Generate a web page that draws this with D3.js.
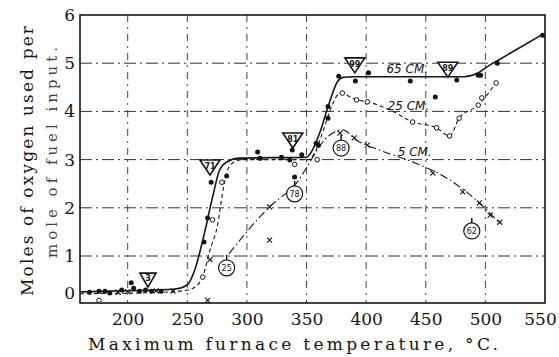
<!DOCTYPE html>
<html>
<head>
<meta charset="utf-8">
<script src="https://cdn.jsdelivr.net/npm/d3@7"></script>
</head>
<body style="margin:0">
<div id="chart"></div>
<script>
// tick values
const xTicks = [200, 250, 300, 350, 400, 450, 500, 550];
const yTicks = [0, 1, 2, 3, 4, 5, 6];
const xGrid = [200, 250, 300, 350, 400, 450, 500];
const yGrid = [1, 2, 3, 4, 5];

// drawn curves [temperature, moles]
const curve65 = [[160,0.03],[200,0.06],[240,0.11],[250,0.22],[256,0.6],[263,1.33],[271,2.2],[277,2.78],[283,2.95],[294,3.03],[350,3.05],[355,3.2],[361,3.55],[369,4.17],[376,4.62],[381,4.71],[390,4.72],[482,4.72],[494,4.8],[503,4.95],[510,5.05],[548,5.6]];
const curve25 = [[160,-0.02],[230,0.02],[250,0.08],[258,0.2],[263,0.45],[269,1.12],[275,1.6],[280,2.37],[283,2.72],[288,2.93],[297,3.0],[352,3.0],[357,3.15],[364,3.6],[371,4.1],[378,4.38],[392,4.24],[401,4.2],[420,4.03],[439,3.78],[459,3.66],[470,3.49],[478,3.86],[494,4.13],[509,4.6]];
const curve5 = [[285,1.05],[319,2.02],[340,2.47],[369,3.5],[380,3.62],[392,3.4],[411,3.2],[439,2.95],[470,2.58],[495,2.1],[512,1.68]];

// measured points
const dots65 = [[168,0.02],[176,0.05],[181,0.05],[185,0.0],[195,0.08],[203,0.28],[205,0.13],[210,0.05],[215,0.08],[220,0.05],[228,0.05],[264,1.29],[267,1.79],[270,2.53],[283,2.66],[309,3.16],[311,3.03],[329,3.05],[336,2.99],[340,2.64],[338,3.2],[346,3.1],[358,3.34],[360,3.3],[368,3.86],[368,4.1],[377,4.73],[391,4.63],[402,4.8],[437,4.63],[458,4.3],[476,4.65],[494,4.75],[496,4.75],[510,5.0],[548,5.58]];
const circles25 = [[176,-0.2],[263,0.43],[271,1.75],[279,2.53],[340,2.9],[359,3.0],[380,4.38],[392,4.24],[401,4.2],[439,3.78],[459,3.66],[470,3.49],[478,3.86],[494,4.13],[497,4.28],[509,4.59]];
const crosses5 = [[192,0.02],[200,0.04],[224,0.06],[238,0.05],[267,-0.2],[269,0.9],[319,2.02],[319,1.33],[378,3.55],[390,3.45],[401,3.3],[456,2.72],[481,2.33],[495,2.1],[504,1.85],[512,1.7]];

// annotations
const triangles = [[217,0.16,"3"],[269,2.68,"71"],[338.5,3.24,"81"],[390.5,4.8,"99"],[468.5,4.71,"89"]];
const rings = [[283,0.68,"25"],[340,2.29,"78"],[379,3.24,"88"],[488.6,1.52,"62"]];
const seriesLabels = [[417,4.88,"65 CM."],[418,4.11,"25 CM."],[426.5,3.16,"5 CM."]];

const W = 559, H = 357;
const svg = d3.select("#chart").append("svg")
    .attr("width", W)
    .attr("height", H)
    .style("display", "block");

const x = d3.scaleLinear().domain([160, 550]).range([80, 545]);
// scan squeezes the lowest unit a bit
const y = d3.scaleLinear().domain([-0.27, 0, 1, 6]).range([303, 293, 256, 15]);

const ink = "#151515";
const SERIF = '"DejaVu Serif"';

// grid
svg.append("g").selectAll("line")
    .data(yGrid)
    .enter().append("line")
    .attr("x1", x(160)).attr("x2", x(550))
    .attr("y1", d => y(d)).attr("y2", d => y(d))
    .attr("stroke", "#333")
    .attr("stroke-width", 1)
    .attr("stroke-dasharray", "12,4,2,4");
svg.append("g").selectAll("line")
    .data(xGrid)
    .enter().append("line")
    .attr("x1", d => x(d)).attr("x2", d => x(d))
    .attr("y1", y(6)).attr("y2", y(-0.27))
    .attr("stroke", "#444")
    .attr("stroke-width", 1)
    .attr("stroke-dasharray", "7,5,2,5");

// frame
svg.append("rect")
    .attr("x", x(160)).attr("y", y(6))
    .attr("width", x(550) - x(160))
    .attr("height", y(-0.27) - y(6))
    .attr("fill", "none")
    .attr("stroke", ink)
    .attr("stroke-width", 1.6);

// axes labels
const xAxis = svg.append("g")
    .attr("transform", `translate(0,${y(-0.27)})`)
    .call(d3.axisBottom(x).tickValues(xTicks).tickSize(0).tickPadding(10).tickFormat(d3.format("d")));
xAxis.select(".domain").remove();
xAxis.selectAll("text")
    .style("font-family", SERIF)
    .attr("font-size", 17)
    .attr("fill", ink)
    .attr("dx", d => d === 550 ? -5 : 0);

const yAxis = svg.append("g")
    .attr("transform", `translate(${x(160)},0)`)
    .call(d3.axisLeft(y).tickValues(yTicks).tickSize(0).tickPadding(5).tickFormat(d3.format("d")));
yAxis.select(".domain").remove();
yAxis.selectAll("text")
    .style("font-family", SERIF)
    .attr("font-size", 17)
    .attr("fill", ink);

svg.append("text")
    .attr("x", 88).attr("y", 350)
    .attr("textLength", 410)
    .attr("lengthAdjust", "spacing")
    .style("font-family", SERIF)
    .attr("font-size", 17)
    .attr("fill", ink)
    .text("Maximum furnace temperature, °C.");

svg.append("text")
    .attr("transform", "translate(33,296) rotate(-90)")
    .attr("textLength", 270)
    .attr("lengthAdjust", "spacing")
    .style("font-family", SERIF)
    .attr("font-size", 17)
    .attr("fill", ink)
    .text("Moles of oxygen used per");
svg.append("text")
    .attr("transform", "translate(57,258) rotate(-90)")
    .attr("textLength", 211)
    .attr("lengthAdjust", "spacing")
    .style("font-family", SERIF)
    .attr("font-size", 15)
    .attr("fill", "#444")
    .text("mole of fuel input.");

// lines
const line = d3.line()
    .x(d => x(d[0]))
    .y(d => y(d[1]))
    .curve(d3.curveMonotoneX);

svg.append("path").datum(curve65)
    .attr("d", line)
    .attr("fill", "none")
    .attr("stroke", ink)
    .attr("stroke-width", 1.6);
svg.append("path").datum(curve25)
    .attr("d", line)
    .attr("fill", "none")
    .attr("stroke", ink)
    .attr("stroke-width", 1.1)
    .attr("stroke-dasharray", "4,3");
svg.append("path").datum(curve5)
    .attr("d", line)
    .attr("fill", "none")
    .attr("stroke", ink)
    .attr("stroke-width", 1.1)
    .attr("stroke-dasharray", "8,3,1.5,3");

// points
svg.append("g").selectAll("circle")
    .data(dots65)
    .enter().append("circle")
    .attr("cx", d => x(d[0])).attr("cy", d => y(d[1]))
    .attr("r", 2.5)
    .attr("fill", ink);
svg.append("g").selectAll("circle")
    .data(circles25)
    .enter().append("circle")
    .attr("cx", d => x(d[0])).attr("cy", d => y(d[1]))
    .attr("r", 2.3)
    .attr("fill", "#fff")
    .attr("stroke", ink)
    .attr("stroke-width", 1);
svg.append("g").selectAll("path")
    .data(crosses5)
    .enter().append("path")
    .attr("d", d => {
        const cx = x(d[0]), cy = y(d[1]), s = 2.5;
        return `M${cx-s},${cy-s}L${cx+s},${cy+s}M${cx-s},${cy+s}L${cx+s},${cy-s}`;
    })
    .attr("stroke", ink)
    .attr("stroke-width", 1.1);

// triangle tags, tip on the point
const tri = svg.append("g").selectAll("g")
    .data(triangles)
    .enter().append("g")
    .attr("transform", d => `translate(${x(d[0])},${y(d[1])})`);
tri.append("path")
    .attr("d", d => d[2] === "3" ? "M0,0L-8,-14L8,-14Z" : "M0,0L-10,-15L10,-15Z")
    .attr("fill", "#fff")
    .attr("stroke", ink)
    .attr("stroke-width", 1.6);
tri.append("text")
    .attr("y", -6)
    .attr("text-anchor", "middle")
    .style("font-family", '"DejaVu Sans"')
    .attr("font-size", 8)
    .attr("font-weight", "bold")
    .attr("fill", ink)
    .text(d => d[2]);

// circled tags
const ring = svg.append("g").selectAll("g")
    .data(rings)
    .enter().append("g")
    .attr("transform", d => `translate(${x(d[0])},${y(d[1])})`);
ring.append("line")
    .attr("y1", -8).attr("y2", -13)
    .attr("stroke", ink)
    .attr("stroke-width", 1.5);
ring.append("circle")
    .attr("r", 8)
    .attr("fill", "#fff")
    .attr("stroke", ink)
    .attr("stroke-width", 1.2);
ring.append("text")
    .attr("y", 3)
    .attr("text-anchor", "middle")
    .style("font-family", '"DejaVu Sans"')
    .attr("font-size", 8)
    .attr("fill", ink)
    .text(d => d[2]);

// series names
svg.append("g").selectAll("text")
    .data(seriesLabels)
    .enter().append("text")
    .attr("x", d => x(d[0]))
    .attr("y", d => y(d[1]) + 4)
    .style("font-family", '"DejaVu Sans"')
    .attr("font-size", 12)
    .attr("font-style", "italic")
    .attr("fill", ink)
    .text(d => d[2]);
</script>
</body>
</html>
